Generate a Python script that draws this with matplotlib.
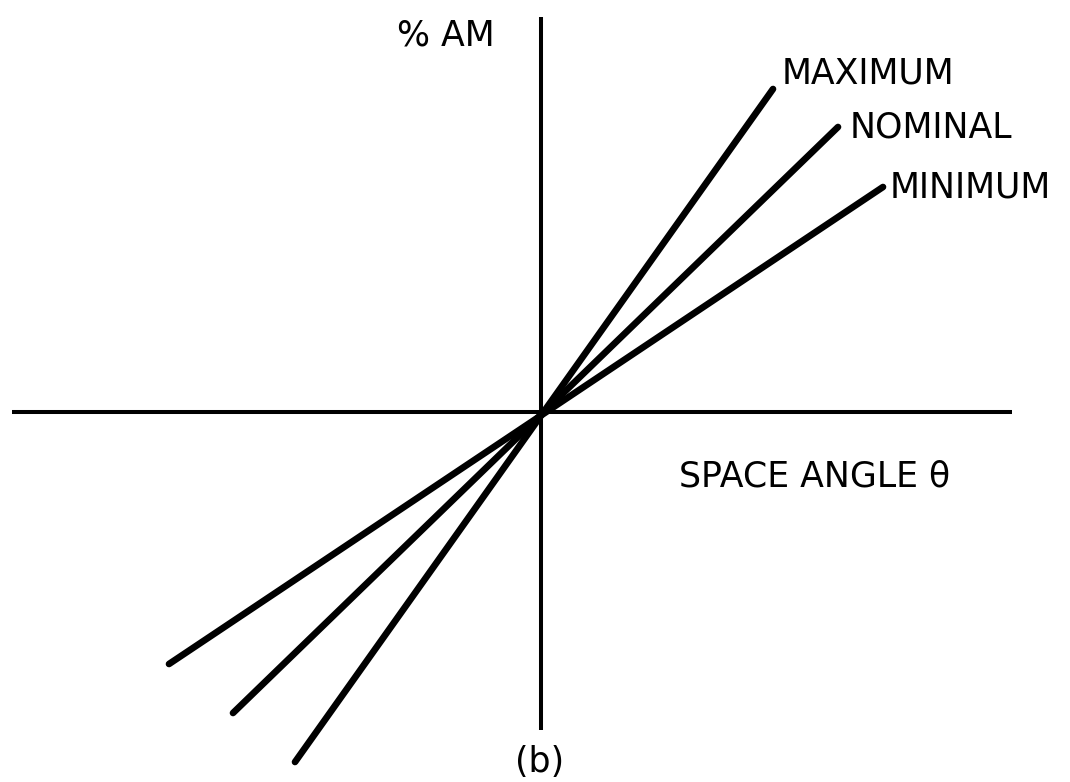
import matplotlib
matplotlib.use("Agg")
import matplotlib.pyplot as plt

# endpoints of each response line (theta, %AM), origin at the axis crossing
labels = ["MAXIMUM", "NOMINAL", "MINIMUM"]
theta_start = [-2.46, -3.08, -3.72]
theta_end = [2.32, 2.97, 3.42]
am_start = [-3.50, -3.01, -2.52]
am_end = [3.23, 2.85, 2.25]

# label anchors (left, baseline)
label_x = [2.41, 3.09, 3.49]
label_y = [3.29, 2.74, 2.14]

fig = plt.figure(figsize=(10.70, 7.82), dpi=100)
ax = fig.add_axes([0, 0, 1, 1])
ax.set_xlim(-5.41, 5.29)
ax.set_ylim(-3.70, 4.12)
ax.axis("off")

font = dict(family="DejaVu Sans", fontsize=25, color="black")

# axes
ax.plot([-5.29, 4.71], [0, 0], color="black", lw=2.9, solid_capstyle="butt")
ax.plot([0, 0], [-3.18, 3.95], color="black", lw=2.9, solid_capstyle="butt")

for x0, x1, y0, y1, name, lx, ly in zip(theta_start, theta_end, am_start, am_end,
                                         labels, label_x, label_y):
    ax.plot([x0, x1], [y0, y1], color="black", lw=4.8, solid_capstyle="round")
    ax.text(lx, ly, name, ha="left", va="baseline", **font)

ax.text(-1.44, 3.67, "% AM", ha="left", va="baseline", **font)
ax.text(1.38, -0.75, "SPACE ANGLE θ", ha="left", va="baseline", **font)
ax.text(-0.01, -3.50, "(b)", ha="center", va="center", **font)

fig.savefig("out.png", dpi=100, facecolor="white")
